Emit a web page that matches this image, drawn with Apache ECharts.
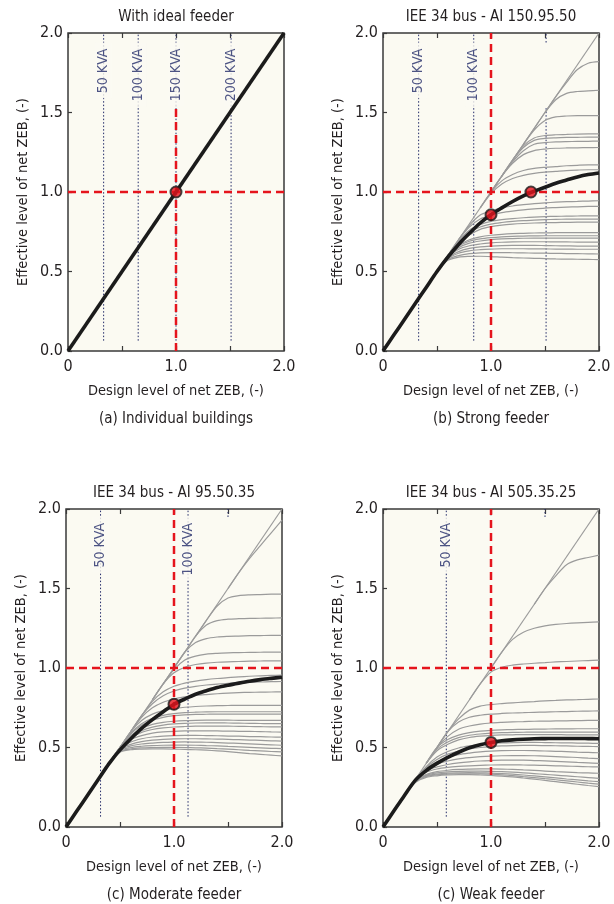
<!DOCTYPE html>
<html>
<head>
<meta charset="utf-8">
<script src="https://cdn.jsdelivr.net/npm/echarts@6/dist/echarts.min.js"></script>
<style>
html,body{margin:0;padding:0;background:#fff;}
#main{width:614px;height:904px;}
</style>
</head>
<body>
<div id="main"></div>
<script>
// ---- data ----
var panelTitles = ['With ideal feeder', 'IEE 34 bus - AI 150.95.50', 'IEE 34 bus - AI 95.50.35', 'IEE 34 bus - AI 505.35.25'];
var panelCaptions = ['(a) Individual buildings', '(b) Strong feeder', '(c) Moderate feeder', '(c) Weak feeder'];
var xTickText = ['0', '', '1.0', '', '2.0'];
var yTickText = ['0.0', '0.5', '1.0', '1.5', '2.0'];
var diagonal = [[0, 0], [2, 2]];
var STEP = 0.1; // curves below are sampled every 0.1 on the x axis, starting where they leave the diagonal

// (a) ideal feeder
var idealDots = [[1, 1]];
var idealKva = [0.33, 0.65, 1.0, 1.51];
var idealKvaText = ['50 KVA', '100 KVA', '150 KVA', '200 KVA'];

// (b) strong feeder
var strongBlack = [0, 0.1, 0.2, 0.3, 0.4, 0.5, 0.59, 0.67, 0.74, 0.805, 0.857, 0.9, 0.94, 0.975, 1.005, 1.03, 1.055, 1.075, 1.095, 1.11, 1.12];
var strongDots = [[1.0, 0.857], [1.37, 1.0]];
var strongKva = [0.33, 0.84];
var strongKvaText = ['50 KVA', '100 KVA'];
var strongGray = [
  [1.5, 1.6, 1.69, 1.77, 1.81, 1.82],
  [1.3, 1.4, 1.5, 1.58, 1.62, 1.632, 1.636, 1.64],
  [1.2, 1.3, 1.39, 1.45, 1.472, 1.478, 1.48, 1.48, 1.48],
  [1.1, 1.2, 1.29, 1.34, 1.355, 1.36, 1.362, 1.364, 1.365, 1.365],
  [1.1, 1.2, 1.28, 1.325, 1.337, 1.341, 1.343, 1.344, 1.345, 1.345],
  [1.0, 1.1, 1.19, 1.26, 1.3, 1.31, 1.315, 1.317, 1.318, 1.319, 1.32],
  [1.0, 1.1, 1.18, 1.235, 1.26, 1.27, 1.275, 1.277, 1.278, 1.279, 1.28],
  [0.9, 1.0, 1.07, 1.11, 1.135, 1.148, 1.155, 1.16, 1.165, 1.168, 1.17, 1.17],
  [0.9, 0.99, 1.05, 1.085, 1.105, 1.117, 1.125, 1.13, 1.135, 1.138, 1.14, 1.14],
  [0.7, 0.79, 0.855, 0.88, 0.9, 0.912, 0.92, 0.927, 0.932, 0.936, 0.939, 0.941, 0.943, 0.945],
  [0.6, 0.7, 0.78, 0.83, 0.855, 0.87, 0.88, 0.888, 0.894, 0.899, 0.902, 0.905, 0.907, 0.909, 0.91],
  [0.6, 0.69, 0.76, 0.795, 0.815, 0.826, 0.833, 0.838, 0.842, 0.845, 0.847, 0.848, 0.849, 0.85, 0.85],
  [0.6, 0.685, 0.745, 0.78, 0.798, 0.808, 0.815, 0.82, 0.823, 0.826, 0.828, 0.829, 0.83, 0.83, 0.83],
  [0.5, 0.6, 0.68, 0.73, 0.765, 0.782, 0.792, 0.798, 0.802, 0.805, 0.807, 0.808, 0.809, 0.81, 0.81, 0.81],
  [0.5, 0.6, 0.665, 0.7, 0.718, 0.728, 0.734, 0.738, 0.74, 0.742, 0.743, 0.744, 0.745, 0.745, 0.745, 0.745],
  [0.5, 0.6, 0.66, 0.69, 0.705, 0.713, 0.718, 0.721, 0.723, 0.724, 0.725, 0.725, 0.725, 0.725, 0.725, 0.725],
  [0.5, 0.595, 0.65, 0.678, 0.692, 0.7, 0.705, 0.707, 0.709, 0.71, 0.71, 0.71, 0.71, 0.71, 0.71, 0.71],
  [0.5, 0.59, 0.64, 0.662, 0.673, 0.68, 0.684, 0.686, 0.687, 0.687, 0.687, 0.686, 0.686, 0.685, 0.685, 0.685],
  [0.5, 0.585, 0.625, 0.645, 0.655, 0.66, 0.663, 0.664, 0.664, 0.664, 0.663, 0.662, 0.661, 0.66, 0.66, 0.66],
  [0.5, 0.58, 0.615, 0.63, 0.637, 0.641, 0.643, 0.643, 0.643, 0.642, 0.642, 0.641, 0.641, 0.64, 0.64, 0.64],
  [0.5, 0.575, 0.6, 0.612, 0.617, 0.619, 0.619, 0.618, 0.617, 0.616, 0.615, 0.614, 0.613, 0.612, 0.611, 0.61],
  [0.5, 0.57, 0.59, 0.595, 0.596, 0.594, 0.59, 0.587, 0.585, 0.583, 0.581, 0.579, 0.578, 0.577, 0.576, 0.575]
];

// (c) moderate feeder
var moderateBlack = [0, 0.1, 0.2, 0.3, 0.4, 0.485, 0.555, 0.62, 0.675, 0.725, 0.772, 0.805, 0.835, 0.857, 0.877, 0.892, 0.905, 0.917, 0.927, 0.935, 0.942];
var moderateDots = [[1.0, 0.772]];
var moderateKva = [0.32, 1.13];
var moderateKvaText = ['50 KVA', '100 KVA'];
var moderateGray = [
  [1.5, 1.6, 1.69, 1.77, 1.85, 1.93],
  [1.2, 1.3, 1.39, 1.44, 1.455, 1.46, 1.462, 1.464, 1.465],
  [1.0, 1.1, 1.2, 1.27, 1.298, 1.307, 1.31, 1.312, 1.313, 1.314, 1.315],
  [0.9, 1.0, 1.1, 1.16, 1.185, 1.195, 1.199, 1.201, 1.203, 1.204, 1.205, 1.205],
  [0.8, 0.9, 0.99, 1.05, 1.075, 1.087, 1.092, 1.095, 1.097, 1.098, 1.099, 1.1, 1.1],
  [0.8, 0.9, 0.97, 1.005, 1.022, 1.031, 1.036, 1.039, 1.041, 1.043, 1.044, 1.045, 1.045],
  [0.6, 0.7, 0.79, 0.85, 0.885, 0.905, 0.918, 0.927, 0.934, 0.94, 0.944, 0.948, 0.951, 0.953, 0.955],
  [0.6, 0.7, 0.775, 0.825, 0.855, 0.873, 0.885, 0.893, 0.899, 0.904, 0.907, 0.91, 0.912, 0.914, 0.915],
  [0.5, 0.6, 0.69, 0.75, 0.785, 0.805, 0.818, 0.827, 0.833, 0.838, 0.842, 0.845, 0.847, 0.848, 0.849, 0.85],
  [0.5, 0.6, 0.67, 0.71, 0.732, 0.745, 0.753, 0.758, 0.761, 0.763, 0.764, 0.765, 0.765, 0.765, 0.765, 0.765],
  [0.5, 0.59, 0.65, 0.683, 0.702, 0.713, 0.719, 0.722, 0.724, 0.725, 0.725, 0.725, 0.725, 0.725, 0.725, 0.725],
  [0.5, 0.585, 0.64, 0.672, 0.69, 0.7, 0.705, 0.708, 0.709, 0.71, 0.71, 0.71, 0.71, 0.71, 0.71, 0.71],
  [0.5, 0.575, 0.62, 0.645, 0.658, 0.665, 0.669, 0.671, 0.672, 0.672, 0.672, 0.671, 0.671, 0.67, 0.67, 0.67],
  [0.4, 0.5, 0.565, 0.605, 0.628, 0.641, 0.648, 0.652, 0.654, 0.655, 0.655, 0.654, 0.653, 0.652, 0.651, 0.65, 0.65],
  [0.4, 0.5, 0.56, 0.595, 0.613, 0.623, 0.629, 0.632, 0.634, 0.635, 0.635, 0.634, 0.633, 0.632, 0.631, 0.63, 0.63],
  [0.4, 0.5, 0.55, 0.575, 0.59, 0.598, 0.602, 0.604, 0.605, 0.605, 0.604, 0.603, 0.602, 0.601, 0.6, 0.598, 0.597],
  [0.4, 0.495, 0.535, 0.555, 0.566, 0.572, 0.575, 0.576, 0.576, 0.575, 0.574, 0.572, 0.571, 0.569, 0.568, 0.566, 0.565],
  [0.4, 0.49, 0.52, 0.537, 0.546, 0.551, 0.554, 0.555, 0.555, 0.554, 0.553, 0.551, 0.549, 0.547, 0.545, 0.542, 0.54],
  [0.4, 0.485, 0.51, 0.522, 0.528, 0.532, 0.534, 0.535, 0.534, 0.533, 0.531, 0.528, 0.526, 0.523, 0.52, 0.517, 0.514],
  [0.4, 0.48, 0.5, 0.508, 0.512, 0.514, 0.515, 0.515, 0.514, 0.512, 0.51, 0.507, 0.504, 0.501, 0.498, 0.495, 0.493],
  [0.4, 0.475, 0.492, 0.498, 0.5, 0.501, 0.501, 0.5, 0.498, 0.496, 0.493, 0.49, 0.486, 0.482, 0.479, 0.475, 0.472],
  [0.4, 0.47, 0.486, 0.49, 0.491, 0.491, 0.49, 0.488, 0.486, 0.483, 0.479, 0.474, 0.468, 0.462, 0.457, 0.452, 0.447]
];

// (d) weak feeder
var weakBlack = [0, 0.1, 0.2, 0.295, 0.355, 0.4, 0.438, 0.47, 0.498, 0.518, 0.532, 0.542, 0.548, 0.552, 0.555, 0.556, 0.557, 0.557, 0.557, 0.556, 0.555];
var weakDots = [[1.0, 0.532]];
var weakKva = [0.586];
var weakKvaText = ['50 KVA'];
var weakGray = [
  [1.4, 1.5, 1.58, 1.65, 1.68, 1.695, 1.71],
  [1.0, 1.1, 1.18, 1.225, 1.25, 1.265, 1.274, 1.28, 1.284, 1.287, 1.29],
  [0.8, 0.9, 0.975, 1.005, 1.018, 1.025, 1.03, 1.034, 1.038, 1.041, 1.044, 1.047, 1.05],
  [0.5, 0.6, 0.68, 0.735, 0.76, 0.77, 0.776, 0.781, 0.785, 0.789, 0.793, 0.796, 0.799, 0.801, 0.803, 0.805],
  [0.5, 0.6, 0.66, 0.69, 0.703, 0.71, 0.714, 0.717, 0.719, 0.721, 0.723, 0.725, 0.726, 0.728, 0.729, 0.73],
  [0.4, 0.5, 0.57, 0.615, 0.635, 0.647, 0.654, 0.658, 0.661, 0.663, 0.665, 0.666, 0.667, 0.668, 0.669, 0.67, 0.67],
  [0.4, 0.5, 0.55, 0.578, 0.594, 0.603, 0.608, 0.611, 0.613, 0.614, 0.615, 0.616, 0.617, 0.617, 0.618, 0.618, 0.618],
  [0.4, 0.49, 0.535, 0.562, 0.577, 0.585, 0.59, 0.593, 0.595, 0.596, 0.597, 0.597, 0.597, 0.597, 0.597, 0.597, 0.597],
  [0.4, 0.48, 0.52, 0.548, 0.563, 0.571, 0.576, 0.579, 0.58, 0.581, 0.581, 0.581, 0.581, 0.58, 0.58, 0.58, 0.58],
  [0.3, 0.38, 0.44, 0.475, 0.497, 0.51, 0.519, 0.525, 0.529, 0.531, 0.532, 0.532, 0.531, 0.53, 0.529, 0.528, 0.527, 0.526],
  [0.3, 0.375, 0.425, 0.458, 0.478, 0.491, 0.5, 0.506, 0.51, 0.512, 0.513, 0.513, 0.512, 0.511, 0.51, 0.508, 0.507, 0.505],
  [0.3, 0.37, 0.41, 0.437, 0.455, 0.465, 0.472, 0.477, 0.48, 0.481, 0.481, 0.48, 0.478, 0.476, 0.474, 0.471, 0.469, 0.467],
  [0.3, 0.365, 0.395, 0.415, 0.428, 0.436, 0.442, 0.446, 0.448, 0.449, 0.449, 0.448, 0.446, 0.443, 0.44, 0.437, 0.433, 0.43],
  [0.3, 0.355, 0.378, 0.393, 0.403, 0.41, 0.415, 0.418, 0.42, 0.42, 0.42, 0.418, 0.416, 0.413, 0.41, 0.406, 0.403, 0.4],
  [0.3, 0.345, 0.365, 0.375, 0.381, 0.385, 0.388, 0.39, 0.391, 0.391, 0.39, 0.389, 0.387, 0.385, 0.383, 0.381, 0.379, 0.378],
  [0.2, 0.29, 0.33, 0.348, 0.357, 0.362, 0.364, 0.365, 0.365, 0.364, 0.362, 0.359, 0.356, 0.352, 0.348, 0.345, 0.342, 0.34, 0.338],
  [0.2, 0.29, 0.325, 0.34, 0.347, 0.35, 0.351, 0.351, 0.35, 0.348, 0.345, 0.341, 0.336, 0.331, 0.326, 0.321, 0.316, 0.311, 0.306],
  [0.2, 0.285, 0.32, 0.333, 0.339, 0.341, 0.342, 0.341, 0.339, 0.336, 0.332, 0.327, 0.321, 0.315, 0.309, 0.302, 0.296, 0.29, 0.285],
  [0.2, 0.285, 0.318, 0.328, 0.333, 0.335, 0.335, 0.334, 0.332, 0.328, 0.323, 0.317, 0.311, 0.304, 0.297, 0.29, 0.283, 0.276, 0.27],
  [0.2, 0.28, 0.312, 0.322, 0.327, 0.329, 0.329, 0.327, 0.324, 0.32, 0.315, 0.308, 0.301, 0.293, 0.285, 0.277, 0.269, 0.261, 0.254]
];

// first value of each curve sits on the diagonal, so it is also its starting x
function toXY(ys) {
  return ys.map(function (y, k) { return [+(ys[0] + STEP * k).toFixed(2), y]; });
}

// ---- styling / layout ----
var FONT = '"Liberation Sans Narrow","DejaVu Sans Condensed","Arial Narrow",sans-serif';
var TXT = '#231f20';
var PLOT_BG = '#fbfaf2';
var NAVY = '#222a68';
var RED = '#e5141d';

var grids = [
  {left: 68, top: 33, width: 216, height: 318},
  {left: 383, top: 33, width: 216, height: 318},
  {left: 66, top: 509, width: 216, height: 318},
  {left: 383, top: 509, width: 216, height: 318}
];

var panels = [
  {gray: [], black: diagonal, dots: idealDots, kva: idealKva, kvaText: idealKvaText, labelTop: 1.94,
   extraDotted: [], redV: [0, 1.53]},
  {gray: strongGray, black: toXY(strongBlack), dots: strongDots, kva: strongKva, kvaText: strongKvaText, labelTop: 1.94,
   extraDotted: [[1.51, 0.065, 1.53], [1.51, 1.94, 2]], redV: [0, 2]},
  {gray: moderateGray, black: toXY(moderateBlack), dots: moderateDots, kva: moderateKva, kvaText: moderateKvaText, labelTop: 1.95,
   extraDotted: [[1.5, 1.95, 2]], redV: [0, 2]},
  {gray: weakGray, black: toXY(weakBlack), dots: weakDots, kva: weakKva, kvaText: weakKvaText, labelTop: 1.95,
   extraDotted: [[1.5, 1.95, 2], [1.0, 1.96, 2]], redV: [0, 2]}
];

var xAxes = [], yAxes = [], series = [], titles = [];

grids.forEach(function (g, i) {
  g.show = true;
  g.backgroundColor = PLOT_BG;
  g.borderColor = '#3a3a3a';
  g.borderWidth = 1.5;
  g.containLabel = false;

  xAxes.push({
    type: 'value', gridIndex: i, min: 0, max: 2, interval: 0.5, position: 'bottom',
    name: 'Design level of net ZEB, (-)', nameLocation: 'middle', nameGap: 33,
    nameTextStyle: {fontFamily: FONT, fontSize: 14.5, color: TXT},
    axisLine: {show: false},
    axisTick: {show: true, inside: true, length: 5, lineStyle: {color: '#3a3a3a', width: 1.2}},
    splitLine: {show: false},
    axisLabel: {margin: 8, fontFamily: FONT, fontSize: 16, color: TXT,
      formatter: function (v) { return xTickText[Math.round(v / 0.5)]; }}
  });
  xAxes.push({
    type: 'value', gridIndex: i, min: 0, max: 2, interval: 0.5, position: 'top',
    axisLine: {show: false}, axisLabel: {show: false}, splitLine: {show: false},
    axisTick: {show: true, inside: true, length: 5, lineStyle: {color: '#3a3a3a', width: 1.2}}
  });
  yAxes.push({
    type: 'value', gridIndex: i, min: 0, max: 2, interval: 0.5,
    name: 'Effective level of net ZEB, (-)', nameLocation: 'middle', nameGap: 37,
    nameTextStyle: {fontFamily: FONT, fontSize: 14.5, color: TXT},
    axisLine: {show: false},
    axisTick: {show: true, inside: true, length: 4, lineStyle: {color: '#3a3a3a', width: 1.2}},
    splitLine: {show: false},
    axisLabel: {margin: 5, fontFamily: FONT, fontSize: 16, color: TXT,
      formatter: function (v) { return yTickText[Math.round(v / 0.5)]; }}
  });

  var cx = g.left + g.width / 2;
  titles.push({text: panelTitles[i], left: cx, top: g.top - 23, textAlign: 'center', padding: 0,
    textStyle: {fontFamily: FONT, fontSize: 15, fontWeight: 'normal', color: TXT}});
  titles.push({text: panelCaptions[i], left: cx, top: g.top + g.height + 61, textAlign: 'center', padding: 0,
    textStyle: {fontFamily: FONT, fontSize: 15, fontWeight: 'normal', color: TXT}});

  var p = panels[i];
  var xi = i * 2, yi = i;
  function seg(data, style, z) {
    series.push({type: 'line', xAxisIndex: xi, yAxisIndex: yi, data: data, symbol: 'none',
      silent: true, z: z, lineStyle: style, animation: false});
  }
  var dotted = {color: NAVY, width: 1, type: [1.5, 2]};
  p.kva.forEach(function (x) { seg([[x, 0.065], [x, 2]], dotted, 1); });
  p.extraDotted.forEach(function (d) { seg([[d[0], d[1]], [d[0], d[2]]], dotted, 1); });

  series.push({
    type: 'scatter', xAxisIndex: xi, yAxisIndex: yi, symbolSize: 0, silent: true, z: 2, animation: false,
    data: p.kva.map(function (x, j) { return {value: [x, p.labelTop], name: p.kvaText[j]}; }),
    label: {show: true, position: 'inside', rotate: 90, align: 'right', verticalAlign: 'middle',
      formatter: '{b}', fontFamily: FONT, fontSize: 14, color: NAVY,
      backgroundColor: PLOT_BG, padding: [1, 6, 1, 5]}
  });

  var grayStyle = {color: '#9b9b9b', width: 1.2};
  if (i > 0) seg(diagonal, grayStyle, 3);
  p.gray.forEach(function (c) {
    series.push({type: 'line', xAxisIndex: xi, yAxisIndex: yi, data: toXY(c), symbol: 'none', silent: true,
      smooth: 0.3, z: 3, animation: false, lineStyle: grayStyle});
  });

  var dashed = {color: RED, width: 2.5, type: [8, 5]};
  seg([[0, 1], [2, 1]], dashed, 4);
  seg([[1, p.redV[0]], [1, p.redV[1]]], dashed, 4);

  series.push({type: 'line', xAxisIndex: xi, yAxisIndex: yi, data: p.black, symbol: 'none', silent: true,
    smooth: 0.3, z: 5, animation: false,
    lineStyle: {color: '#1b1b1b', width: 3.6}});

  series.push({type: 'scatter', xAxisIndex: xi, yAxisIndex: yi, data: p.dots, symbolSize: 11, z: 6,
    silent: true, animation: false,
    itemStyle: {color: RED, borderColor: '#1b1b1b', borderWidth: 2}});
});

var chart = echarts.init(document.getElementById('main'), null, {renderer: 'canvas'});
chart.setOption({
  backgroundColor: '#ffffff',
  animation: false,
  title: titles,
  grid: grids,
  xAxis: xAxes,
  yAxis: yAxes,
  series: series
});
</script>
</body>
</html>
